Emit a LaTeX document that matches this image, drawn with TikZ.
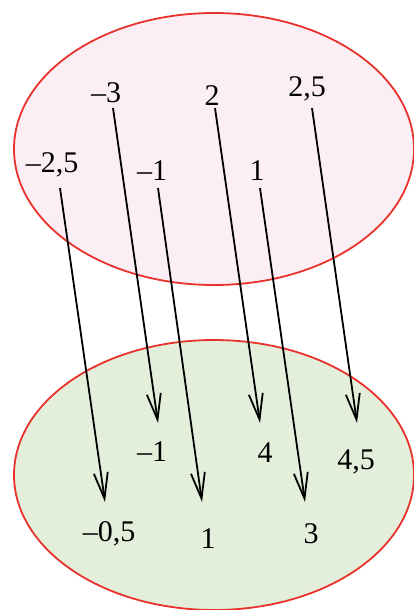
\documentclass[tikz,border=0pt]{standalone}
\usepackage{fontspec}
\setmainfont{Liberation Serif}
\usetikzlibrary{arrows.meta}
\definecolor{setred}{HTML}{E8322B}
\definecolor{pinkfill}{HTML}{FBEFF5}
\definecolor{greenfill}{HTML}{E3EFDB}
\begin{document}
\begin{tikzpicture}[x=1pt,y=-1pt,
  setshape/.style={draw=setred,line width=1.8pt},
  val/.style={inner sep=0pt,font=\fontsize{30}{32}\selectfont},
  maparrow/.style={line width=1.8pt,-{Straight Barb[length=26pt,width=14pt,line width=1.8pt]}}]
\useasboundingbox (0,0) rectangle (414,610);
\clip (0,0) rectangle (414,610);
\draw[setshape,fill=pinkfill] (214,149) ellipse [x radius=200, y radius=136];
\draw[setshape,fill=greenfill] (214,475) ellipse [x radius=200, y radius=135];
% domain values
\node[val] (a1) at (106,93) {–3};
\node[val] (a2) at (212,96) {2};
\node[val] (a3) at (307,89) {2,5};
\node[val] (a4) at (52,165) {–2,5};
\node[val] (a5) at (152,171) {–1};
\node[val] (a6) at (257,171) {1};
% image values
\node[val] (b1) at (152,452) {–1};
\node[val] (b2) at (265,453) {4};
\node[val] (b3) at (356,462) {4,5};
\node[val] (b4) at (109,534) {–0,5};
\node[val] (b5) at (208,539) {1};
\node[val] (b6) at (311,534) {3};
% arrow end points
\coordinate (s1) at (113,108); \coordinate (t1) at (158,423);
\coordinate (s2) at (215,108); \coordinate (t2) at (260,423);
\coordinate (s3) at (312,108); \coordinate (t3) at (357,423);
\coordinate (s4) at (60,188);  \coordinate (t4) at (105,502);
\coordinate (s5) at (158,188); \coordinate (t5) at (202,502);
\coordinate (s6) at (260,188); \coordinate (t6) at (305,502);
\foreach \i in {1,...,6} \draw[maparrow] (s\i) -- (t\i);
\end{tikzpicture}
\end{document}
